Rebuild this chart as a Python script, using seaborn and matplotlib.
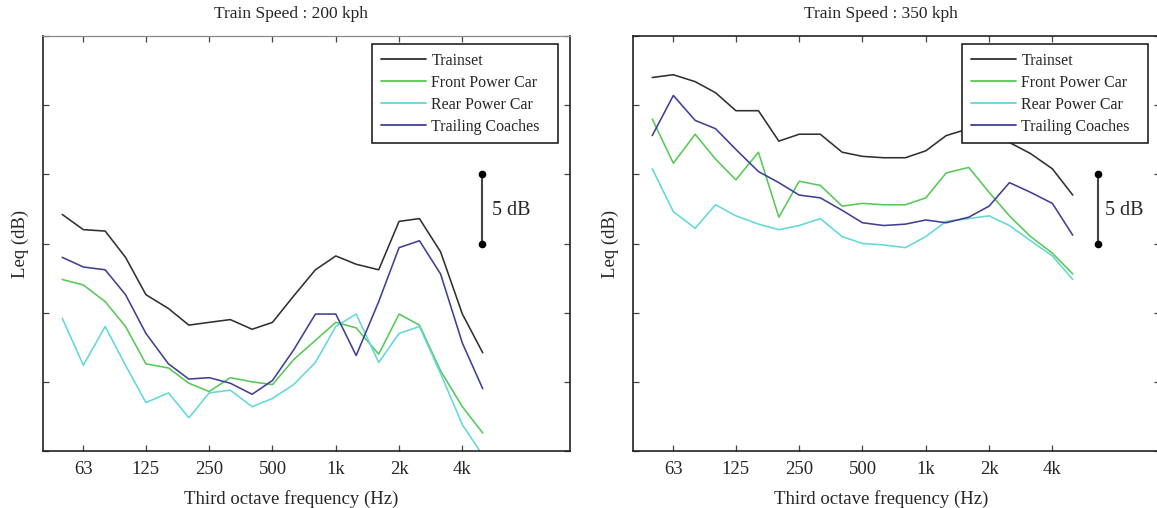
import numpy as np
import pandas as pd
import matplotlib
matplotlib.use("Agg")
import matplotlib.pyplot as plt
from matplotlib.ticker import NullLocator
import seaborn as sns

# ---------------- data ----------------
freqs = [50, 63, 80, 100, 125, 160, 200, 250, 315, 400, 500, 630,
         800, 1000, 1250, 1600, 2000, 2500, 3150, 4000, 5000]
series_names = ["Trainset", "Front Power Car", "Rear Power Car", "Trailing Coaches"]

# 200 kph (relative Leq, dB)
L_trainset = [17.1, 16.0, 15.9, 14.0, 11.3, 10.3, 9.1, 9.3, 9.5, 8.8, 9.3, 11.2,
              13.1, 14.1, 13.5, 13.1, 16.6, 16.8, 14.4, 9.9, 7.1]
L_front = [12.4, 12.0, 10.8, 9.0, 6.3, 6.0, 4.9, 4.3, 5.3, 5.0, 4.8, 6.6,
           8.0, 9.3, 8.9, 7.0, 9.9, 9.1, 5.8, 3.2, 1.3]
L_rear = [9.6, 6.2, 9.0, 6.2, 3.5, 4.2, 2.4, 4.2, 4.4, 3.2, 3.8, 4.8,
          6.4, 9.0, 9.9, 6.4, 8.5, 9.0, 5.6, 1.9, -0.3]
L_trailing = [14.0, 13.3, 13.1, 11.3, 8.5, 6.3, 5.2, 5.3, 4.9, 4.1, 5.1, 7.3,
              9.9, 9.9, 6.9, 10.8, 14.7, 15.2, 12.8, 7.8, 4.5]

# 350 kph (relative Leq, dB)
R_trainset = [27.0, 27.2, 26.7, 25.9, 24.6, 24.6, 22.4, 22.9, 22.9, 21.6, 21.3, 21.2,
              21.2, 21.7, 22.8, 23.3, 23.2, 22.3, 21.5, 20.4, 18.5]
R_front = [24.0, 20.8, 22.9, 21.1, 19.6, 21.6, 16.9, 19.5, 19.2, 17.7, 17.9, 17.8,
           17.8, 18.3, 20.1, 20.5, 18.7, 17.0, 15.5, 14.3, 12.8]
R_rear = [20.4, 17.3, 16.1, 17.8, 17.0, 16.4, 16.0, 16.3, 16.8, 15.5, 15.0, 14.9,
          14.7, 15.5, 16.6, 16.8, 17.0, 16.3, 15.2, 14.1, 12.4]
R_trailing = [22.8, 25.7, 23.9, 23.3, 21.8, 20.2, 19.4, 18.5, 18.3, 17.4, 16.5, 16.3,
              16.4, 16.7, 16.5, 16.9, 17.7, 19.4, 18.7, 17.9, 15.6]

titles = ["Train Speed : 200 kph", "Train Speed : 350 kph"]
xtick_vals = [63, 125, 250, 500, 1000, 2000, 4000]
xtick_labels = ["63", "125", "250", "500", "1k", "2k", "4k"]
scale_bar = (15, 20)  # 5 dB reference bar
scale_label = "5 dB"

palette = {"Trainset": "#303030", "Front Power Car": "#55c955",
           "Rear Power Car": "#62d8d8", "Trailing Coaches": "#3f3f98"}


def long_frame(vals):
    rows = []
    for name, v in zip(series_names, vals):
        for f, y in zip(freqs, v):
            rows.append({"freq": f, "Leq": y, "series": name})
    return pd.DataFrame(rows)


sns.set_theme(style="white")
plt.rcParams["font.family"] = ["Liberation Serif", "DejaVu Serif"]

W, H = 1157, 508
fig = plt.figure(figsize=(W / 100, H / 100), dpi=100)
fig.patch.set_facecolor("white")

ax_boxes = [(43, 570), (633, 1160)]
top_px, bot_px = 36, 451
panels = [
    (long_frame([L_trainset, L_front, L_rear, L_trailing]), 4950, 5530),
    (long_frame([R_trainset, R_front, R_rear, R_trailing]), 6600, 7120),
]

for i, ((x0, x1), (df, bar_f, txt_f), title) in enumerate(zip(ax_boxes, panels, titles)):
    ax = fig.add_axes([x0 / W, 1 - bot_px / H, (x1 - x0) / W, (bot_px - top_px) / H])
    sns.lineplot(data=df, x="freq", y="Leq", hue="series", hue_order=series_names,
                 palette=palette, estimator=None, linewidth=1.15, ax=ax)
    ax.set_xscale("log")
    ax.set_xlim(40.5, 13000)
    ax.set_ylim(0, 30)
    ax.set_xticks(xtick_vals)
    ax.set_xticklabels(xtick_labels)
    ax.xaxis.set_minor_locator(NullLocator())
    ax.set_yticks(np.arange(0, 31, 5))
    ax.tick_params(axis="both", which="major", direction="in", length=4, width=0.9,
                   color="#444444", top=True, right=True, left=True, bottom=True,
                   labelsize=13.5, pad=7)
    ax.tick_params(axis="y", labelleft=False)
    for name, sp in ax.spines.items():
        sp.set_visible(True)
        sp.set_color("#222222")
        sp.set_linewidth(1.2)
    if i == 0:
        ax.spines["top"].set_color("#8a8a8a")
        ax.spines["top"].set_linewidth(0.9)

    ax.set_xlabel("Third octave frequency (Hz)", fontsize=13.5)
    ax.xaxis.set_label_coords(0.47, -0.093)
    ax.xaxis.label.set_va("top")
    ax.set_ylabel("Leq (dB)", fontsize=13.5)
    ax.yaxis.set_label_coords(-0.027, 0.5)
    ax.set_title(title, fontsize=12.5, pad=13, x=0.47)

    # 5 dB reference bar
    ax.plot([bar_f, bar_f], list(scale_bar), color="#444444", lw=1.5,
            marker="o", ms=4.5, mfc="black", mec="black")
    ax.text(txt_f, np.mean(scale_bar) - 0.1, scale_label, fontsize=14.5,
            va="center", ha="left")

    handles, labels = ax.get_legend_handles_labels()
    leg = ax.legend(handles, labels, loc="upper left",
                    bbox_to_anchor=(0.624, 0.749, 0.353, 0.232), mode="expand",
                    borderaxespad=0, fontsize=11.4, frameon=True, fancybox=False,
                    framealpha=1, edgecolor="#222222", handlelength=2.9,
                    handletextpad=0.3, labelspacing=0.38, borderpad=0.55)
    leg.get_frame().set_linewidth(1.2)
    for lh in leg.get_lines():
        lh.set_linewidth(1.3)

fig.savefig("out.png", dpi=100)
